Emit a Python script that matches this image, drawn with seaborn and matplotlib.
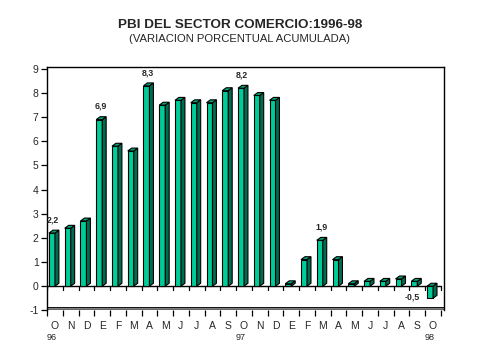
import numpy as np
import pandas as pd
import matplotlib
matplotlib.use("Agg")
import matplotlib.pyplot as plt
from matplotlib.patches import Polygon
from matplotlib.transforms import blended_transform_factory
import seaborn as sns

# ---- data ----
months = ["O", "N", "D", "E", "F", "M", "A", "M", "J", "J", "A", "S", "O",
          "N", "D", "E", "F", "M", "A", "M", "J", "J", "A", "S", "O"]
values = [2.2, 2.4, 2.7, 6.9, 5.8, 5.6, 8.3, 7.5, 7.7, 7.6, 7.6, 8.1, 8.2,
          7.9, 7.7, 0.1, 1.1, 1.9, 1.1, 0.1, 0.2, 0.2, 0.3, 0.2, -0.5]
year_labels = ["96", "97", "98"]
year_index = [0, 12, 24]
labelled = {0: "2,2", 3: "6,9", 6: "8,3", 12: "8,2", 17: "1,9", 24: "-0,5"}
yticks = list(range(-1, 10))

sns.set_style("white")
plt.rcParams["font.family"] = ["Liberation Sans", "DejaVu Sans"]

W, H = 479, 359
fig = plt.figure(figsize=(W / 100, H / 100), dpi=100)
ax = fig.add_axes([47 / W, (H - 310.3) / H, 397 / W, 243.3 / H])

pos = np.arange(len(values))
df = pd.DataFrame({"pos": pos - 0.185, "value": values})

front = "#00CC99"
side = "#006B4F"
topc = "#00A57A"

sns.barplot(data=df, x="pos", y="value", native_scale=True, width=0.38,
            color=front, edgecolor="black", linewidth=0.8, saturation=1,
            errorbar=None, ax=ax, zorder=3)

dx, dy = 0.25, 0.12
for p in ax.patches[:len(values)]:
    x0, w = p.get_x(), p.get_width()
    y0, h = p.get_y(), p.get_height()
    lo, hi = min(y0, y0 + h), max(y0, y0 + h)
    ax.add_patch(Polygon([(x0 + w, lo), (x0 + w + dx, lo + dy),
                          (x0 + w + dx, hi + dy), (x0 + w, hi)],
                         closed=True, facecolor=side, edgecolor="black",
                         linewidth=0.8, zorder=3))
    ax.add_patch(Polygon([(x0, hi), (x0 + dx, hi + dy),
                          (x0 + w + dx, hi + dy), (x0 + w, hi)],
                         closed=True, facecolor=topc, edgecolor="black",
                         linewidth=0.8, zorder=3))

n = len(values)
ax.set_xlim(-0.5, n - 0.5 + 0.2)
ax.set_ylim(-1, 9.08)

# zero line with hanging ticks
ax.plot([-0.5, n - 0.5], [0, 0], color="black", lw=1.0, zorder=2)
for b in np.arange(-0.5, n, 1.0):
    ax.plot([b, b], [0, -0.17], color="black", lw=0.9, zorder=2)

# floor
ax.fill_between([-0.5, n - 0.5 + 0.2], -1, -0.88, color="#808080", zorder=1,
                linewidth=0)
ax.plot([-0.5, n - 0.5 + 0.2], [-1, -1], color="black", lw=1.0, zorder=2)
ax.plot([-0.5, n - 0.5 + 0.2], [-0.88, -0.88], color="black", lw=0.6, zorder=2)

# spines
for s in ["left", "top", "right"]:
    ax.spines[s].set_visible(True)
    ax.spines[s].set_color("black")
    ax.spines[s].set_linewidth(1.0)
ax.spines["bottom"].set_visible(False)

ax.set_yticks(yticks)
ax.set_yticklabels([str(t) for t in yticks])
ax.tick_params(axis="y", direction="out", length=4, width=0.9, color="black",
               labelsize=7.5, pad=2, left=True)

ax.set_xticks(pos)
ax.set_xticklabels(months)
ax.set_xticks(np.arange(-0.5, n, 1.0), minor=True)
ax.tick_params(axis="x", which="major", length=0, labelsize=7.5, pad=7.5)
ax.tick_params(axis="x", which="minor", direction="out", length=4, width=0.9,
               color="black", bottom=True)
ax.set_xlabel("")
ax.set_ylabel("")
ax.grid(False)

trans = blended_transform_factory(ax.transData, fig.transFigure)
for lab, i in zip(year_labels, year_index):
    ax.text(i - 0.2, 1 - 337 / H, lab, transform=trans, ha="center",
            va="center", fontsize=6.5)

# value labels
for i, lab in labelled.items():
    v = values[i]
    if v >= 0:
        ax.text(i - 0.1, v + 0.55, lab, ha="center", va="center", fontsize=6.3,
                fontweight="bold", zorder=4)
    else:
        ax.text(i - 1.3, v + 0.05, lab, ha="center", va="center", fontsize=6.3,
                fontweight="bold", zorder=4)

fig.text(0.501, 1 - 25 / H, "PBI DEL SECTOR COMERCIO:1996-98", ha="center",
         va="center", fontsize=9.7, fontweight="bold")
fig.text(0.501, 1 - 38.5 / H, "(VARIACION PORCENTUAL ACUMULADA)", ha="center",
         va="center", fontsize=8.1)

fig.savefig("out.png", dpi=100, facecolor="white")
